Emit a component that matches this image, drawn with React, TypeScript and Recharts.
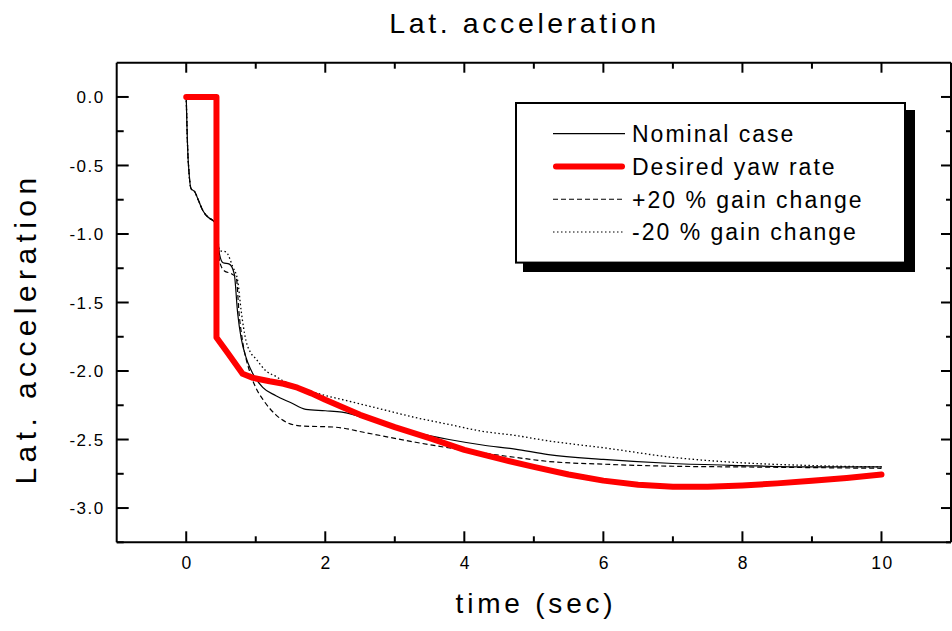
import React from "react";
import { LineChart, Line, XAxis, YAxis, Legend, Customized } from "recharts";

// [time (sec), lateral acceleration]
const nominalCase = [
  [0, 0], [0.01, -0.2], [0.02, -0.37], [0.04, -0.55], [0.07, -0.67], [0.12, -0.69],
  [0.18, -0.76], [0.24, -0.83], [0.32, -0.88], [0.38, -0.9], [0.43, -0.93],
  [0.48, -1.15], [0.53, -1.21], [0.62, -1.22], [0.69, -1.29], [0.74, -1.58],
  [0.79, -1.76], [0.86, -1.9], [0.92, -1.98], [1.1, -2.12], [1.29, -2.18],
  [1.5, -2.23], [1.72, -2.28], [2.0, -2.29], [2.24, -2.3], [2.73, -2.37],
  [3.3, -2.45], [3.78, -2.5], [4.26, -2.54], [4.73, -2.57], [5.21, -2.61],
  [6, -2.645], [7, -2.675], [8, -2.69], [9, -2.7], [10, -2.7],
];

const desiredYawRate = [
  [0, 0], [0.435, 0], [0.435, -1.755], [0.6, -1.87], [0.81, -2.02], [0.96, -2.05],
  [1.2, -2.075], [1.4, -2.093], [1.6, -2.122], [1.8, -2.163], [2.0, -2.21], [2.5, -2.32],
  [3.0, -2.41], [3.5, -2.49], [4.0, -2.575], [4.5, -2.64], [5.0, -2.7],
  [5.5, -2.755], [6.0, -2.8], [6.5, -2.83], [7.0, -2.845], [7.5, -2.845],
  [8.0, -2.835], [8.5, -2.82], [9.0, -2.8], [9.5, -2.78], [10, -2.755],
];

const plusGain = [
  [0, 0], [0.01, -0.2], [0.02, -0.37], [0.04, -0.55], [0.07, -0.67], [0.12, -0.69],
  [0.18, -0.76], [0.24, -0.83], [0.32, -0.88], [0.38, -0.9], [0.43, -0.93],
  [0.48, -1.2], [0.55, -1.27], [0.65, -1.29], [0.72, -1.32], [0.76, -1.58],
  [0.81, -1.78], [0.91, -2.0], [1.0, -2.12], [1.12, -2.22], [1.29, -2.32],
  [1.63, -2.4], [2.15, -2.41], [2.58, -2.45], [3.3, -2.52], [4.02, -2.58],
  [4.73, -2.63], [5.21, -2.66], [6, -2.68], [7, -2.695], [8, -2.7], [9, -2.705],
  [10, -2.71],
];

const minusGain = [
  [0, 0], [0.01, -0.2], [0.02, -0.37], [0.04, -0.55], [0.07, -0.67], [0.12, -0.69],
  [0.18, -0.76], [0.24, -0.83], [0.32, -0.88], [0.38, -0.9], [0.43, -0.93],
  [0.48, -1.12], [0.57, -1.13], [0.67, -1.24], [0.74, -1.34], [0.79, -1.56],
  [0.86, -1.78], [0.92, -1.86], [1.0, -1.91], [1.15, -2.0], [1.29, -2.04],
  [1.39, -2.07], [1.87, -2.16], [2.34, -2.22], [2.82, -2.28], [3.3, -2.34],
  [3.78, -2.39], [4.26, -2.44], [4.73, -2.47], [5.21, -2.51], [6, -2.56],
  [7, -2.63], [8, -2.67], [9, -2.69], [10, -2.7],
];

const timeTicks = [0, 1, 2, 3, 4, 5, 6, 7, 8, 9, 10];
const accelTicks = [0, -0.25, -0.5, -0.75, -1, -1.25, -1.5, -1.75, -2, -2.25, -2.5, -2.75, -3, -3.25];

const toPoints = (rows: number[][]) => rows.map(([t, v]) => ({ t, v }));

const FONT = "'Liberation Sans', Arial, Helvetica, sans-serif";

const series = [
  { name: "Nominal case", data: toPoints(nominalCase), stroke: "#000", width: 1.2, dash: undefined, curve: "monotone" },
  { name: "+20 % gain change", data: toPoints(plusGain), stroke: "#000", width: 1.2, dash: "5 3", curve: "monotone" },
  { name: "-20 % gain change", data: toPoints(minusGain), stroke: "#000", width: 1.3, dash: "1.5 2.5", curve: "monotone" },
  { name: "Desired yaw rate", data: toPoints(desiredYawRate), stroke: "#ff0000", width: 6, dash: undefined, curve: "linear" },
];

const legendOrder = ["Nominal case", "Desired yaw rate", "+20 % gain change", "-20 % gain change"];

const isMajorTime = (v: number) => v % 2 === 0;
const isMajorAccel = (v: number) => Math.abs(v * 2 - Math.round(v * 2)) < 1e-6;

const BottomTick = ({ x, y, payload }: any) => {
  const major = isMajorTime(payload.value);
  return (
    <g>
      <line x1={x} x2={x} y1={y} y2={y - (major ? 11 : 6)} stroke="#000" strokeWidth={2} />
      {major && (
        <text x={x + 1} y={y + 27} textAnchor="middle" fontSize={17.5} letterSpacing={1.6} fill="#000" fontFamily={FONT}>
          {payload.value}
        </text>
      )}
    </g>
  );
};

const TopTick = ({ x, y, payload }: any) => {
  const major = isMajorTime(payload.value);
  return <line x1={x} x2={x} y1={y} y2={y + (major ? 10 : 6)} stroke="#000" strokeWidth={2} />;
};

const LeftTick = ({ x, y, payload }: any) => {
  const major = isMajorAccel(payload.value);
  return (
    <g>
      <line x1={x} x2={x + (major ? 12 : 7)} y1={y} y2={y} stroke="#000" strokeWidth={2} />
      {major && (
        <text x={x - 12} y={y + 6.3} textAnchor="end" fontSize={17} letterSpacing={1.5} fill="#000" fontFamily={FONT}>
          {payload.value.toFixed(1)}
        </text>
      )}
    </g>
  );
};

const RightTick = ({ x, y, payload }: any) => {
  const major = isMajorAccel(payload.value);
  return <line x1={x} x2={x - (major ? 10 : 5)} y1={y} y2={y} stroke="#000" strokeWidth={2} />;
};

const Titles = () => (
  <g fontFamily={FONT} fill="#000">
    <text x={524.5} y={33} textAnchor="middle" fontSize={28.5} letterSpacing={3.6}>
      Lat. acceleration
    </text>
    <text x={536} y={613} textAnchor="middle" fontSize={28} letterSpacing={3.8}>
      time (sec)
    </text>
    <text x={36} y={328.5} textAnchor="middle" fontSize={30} letterSpacing={5.4} transform="rotate(-90, 36, 328.5)">
      Lat. acceleration
    </text>
  </g>
);

const LegendBox = () => {
  const items = legendOrder.map((n) => series.find((s) => s.name === n)!);
  return (
    <svg width={402} height={172} style={{ display: "block" }}>
      <rect x={8} y={8} width={392} height={162} fill="#000" />
      <rect x={1} y={1} width={389} height={159.6} fill="#fff" stroke="#000" strokeWidth={2} />
      {items.map((s, i) => {
        const ly = 31.6 + i * 32.8;
        return (
          <g key={s.name}>
            <line
              x1={s.width > 3 ? 41 : 38}
              x2={s.width > 3 ? 107 : 110}
              y1={ly}
              y2={ly}
              stroke={s.stroke}
              strokeWidth={s.width > 3 ? s.width : 1.1}
              strokeDasharray={s.dash}
              strokeLinecap={s.width > 3 ? "round" : "butt"}
            />
            <text x={117} y={ly + 8.4} fontSize={23} letterSpacing={2} fontFamily={FONT} fill="#000">
              {s.name}
            </text>
          </g>
        );
      })}
    </svg>
  );
};

export default function App() {
  return (
    <div style={{ position: "absolute", left: 0, top: 0, width: 952, height: 631, background: "#fff" }}>
      <LineChart width={952} height={631} margin={{ top: 61.7, right: 0, bottom: 58.7, left: 56.7 }}>
        <XAxis
          xAxisId="b"
          dataKey="t"
          type="number"
          domain={[-1, 11]}
          ticks={timeTicks}
          interval={0}
          height={30}
          tickSize={0}
          tickMargin={0}
          tickLine={false}
          tick={BottomTick}
          axisLine={{ stroke: "#000", strokeWidth: 2 }}
          allowDataOverflow
        />
        <XAxis
          xAxisId="t"
          orientation="top"
          dataKey="t"
          type="number"
          domain={[-1, 11]}
          ticks={timeTicks}
          interval={0}
          height={1}
          tickSize={0}
          tickMargin={0}
          tickLine={false}
          tick={TopTick}
          axisLine={{ stroke: "#000", strokeWidth: 2 }}
          allowDataOverflow
        />
        <YAxis
          yAxisId="l"
          type="number"
          domain={[-3.25, 0.25]}
          ticks={accelTicks}
          interval={0}
          width={60}
          tickSize={0}
          tickMargin={0}
          tickLine={false}
          tick={LeftTick}
          axisLine={{ stroke: "#000", strokeWidth: 2 }}
          allowDataOverflow
        />
        <YAxis
          yAxisId="r"
          orientation="right"
          type="number"
          domain={[-3.25, 0.25]}
          ticks={accelTicks}
          interval={0}
          width={1}
          tickSize={0}
          tickMargin={0}
          tickLine={false}
          tick={RightTick}
          axisLine={{ stroke: "#000", strokeWidth: 2 }}
          allowDataOverflow
        />
        {series.map((s) => (
          <Line
            key={s.name}
            name={s.name}
            data={s.data}
            dataKey="v"
            xAxisId="b"
            yAxisId="l"
            type={s.curve as any}
            stroke={s.stroke}
            strokeWidth={s.width}
            strokeDasharray={s.dash}
            strokeLinejoin="round"
            strokeLinecap={s.dash ? "butt" : "round"}
            dot={false}
            activeDot={false}
            isAnimationActive={false}
          />
        ))}
        <Legend
          layout="vertical"
          align="center"
          verticalAlign="middle"
          wrapperStyle={{ left: 515, top: 101.7, width: 402, height: 172 }}
          content={<LegendBox />}
        />
        <Customized component={<Titles />} />
      </LineChart>
    </div>
  );
}
